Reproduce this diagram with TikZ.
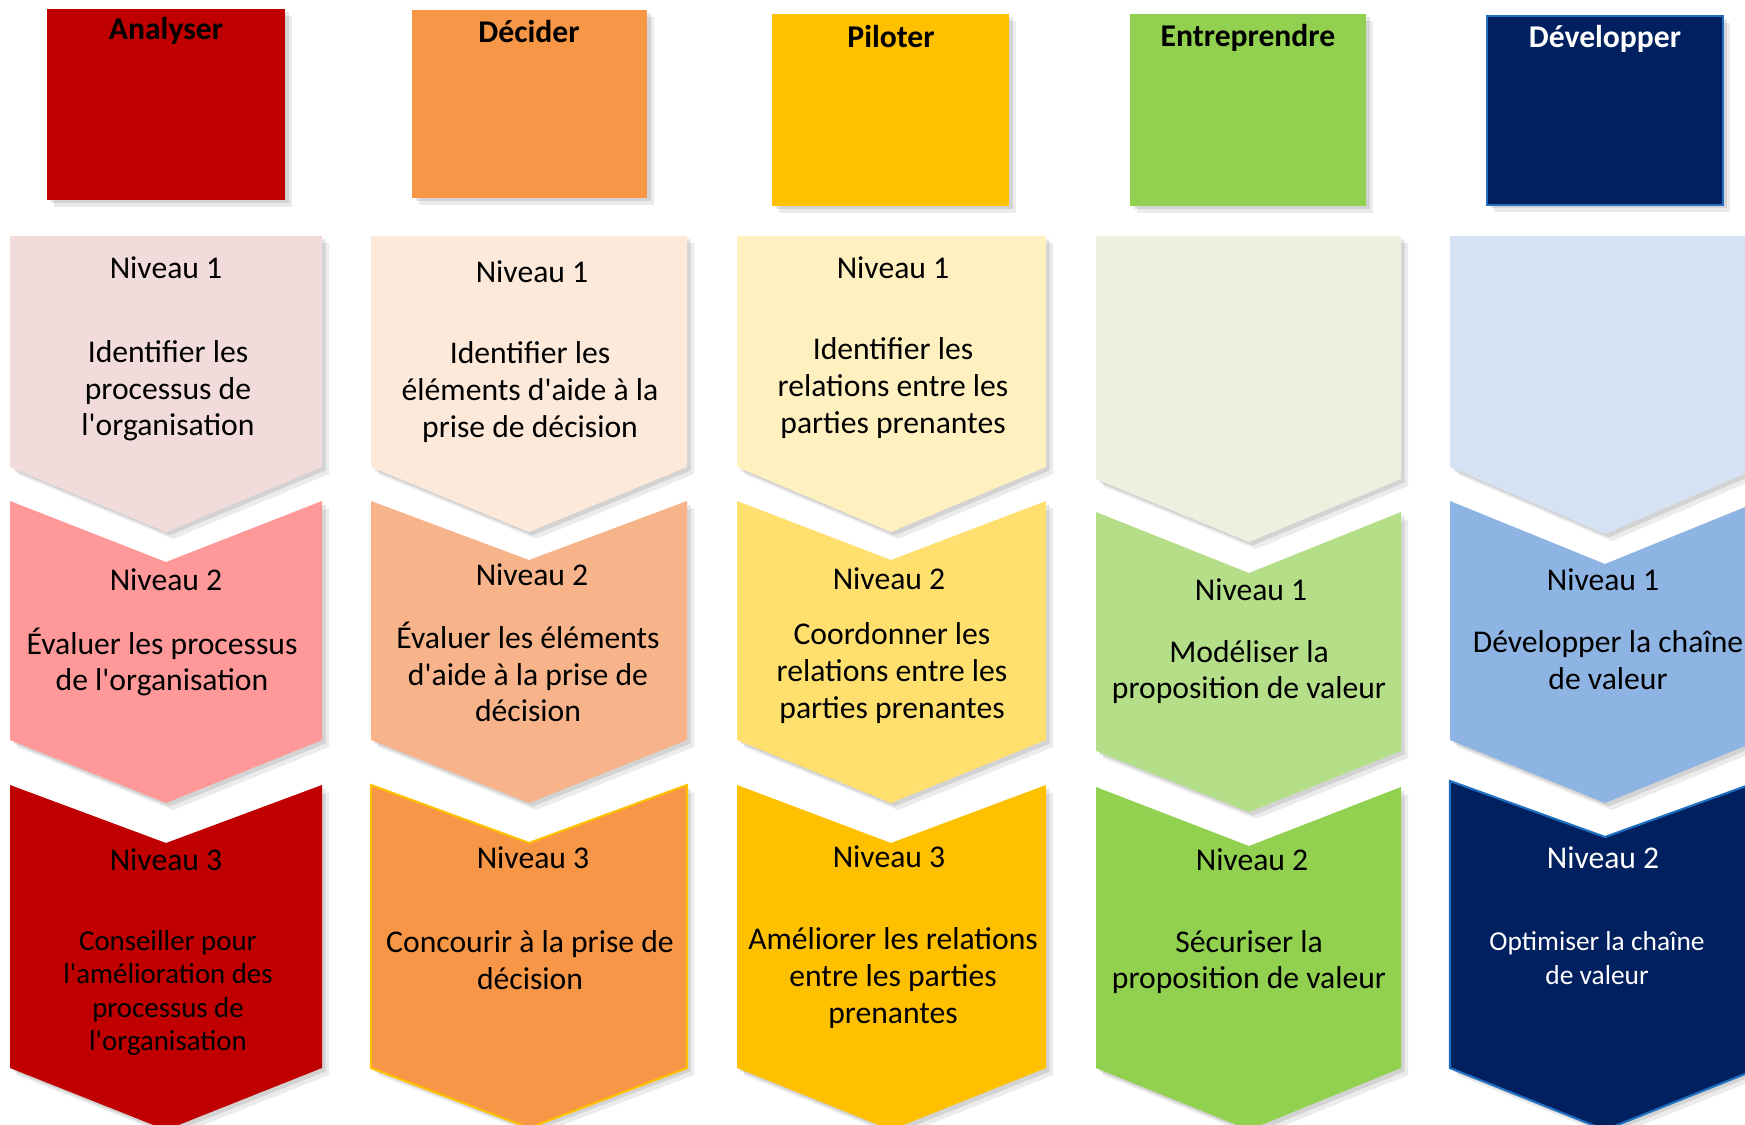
\documentclass[tikz,border=0pt]{standalone}
\usepackage{fontspec}
\setmainfont{Carlito}[Ligatures=TeXOff]
\definecolor{aH}{HTML}{C00000}
\definecolor{a1}{HTML}{F2DCDB}
\definecolor{a2}{HTML}{FF9999}
\definecolor{dH}{HTML}{F79646}
\definecolor{d1}{HTML}{FDE9D9}
\definecolor{d2}{HTML}{F7B48A}
\definecolor{pH}{HTML}{FFC000}
\definecolor{p1}{HTML}{FFF1BF}
\definecolor{p2}{HTML}{FFDF6D}
\definecolor{eH}{HTML}{92D050}
\definecolor{e1}{HTML}{EBF0DF}
\definecolor{e2}{HTML}{B4DE87}
\definecolor{vH}{HTML}{002060}
\definecolor{v1}{HTML}{D5E2F3}
\definecolor{v2}{HTML}{8EB4E3}
\definecolor{vB}{HTML}{1F6FC0}
\newcommand\cvflat[7]{\path[shad,#1] (#2,#5) -- (#3,#5) -- (#3,#6) -- (#4,#7) -- (#2,#6) -- cycle;}
\newcommand\cvnotch[8]{\path[shad,#1] (#2,#5) -- (#4,#6) -- (#3,#5) -- (#3,#7) -- (#4,#8) -- (#2,#7) -- cycle;}
\begin{document}
\begin{tikzpicture}[x=0.01cm,y=-0.01cm,
  shad/.style={preaction={fill=black,opacity=0.10,transform canvas={xshift=0.35mm,yshift=-0.35mm}},
               preaction={fill=black,opacity=0.08,transform canvas={xshift=0.7mm,yshift=-0.7mm}}},
  txt/.style={font=\fontsize{9}{10.4}\selectfont, align=center, inner sep=0pt, text=black},
  small/.style={font=\fontsize{8.2}{9.5}\selectfont, align=center, inner sep=0pt},
  hdr/.style={font=\fontsize{9}{10.4}\selectfont\bfseries, inner sep=0pt, text=black}]
\useasboundingbox (0,0) rectangle (1745,1125);
\clip (0,0) rectangle (1745,1125);
\fill[white] (0,0) rectangle (1745,1125);
% headers
\path[shad,fill=aH] (47,9) rectangle (285,200);
\path[shad,fill=dH] (412,10) rectangle (647,198);
\path[shad,fill=pH] (772,14) rectangle (1009,206);
\path[shad,fill=eH] (1130,14) rectangle (1366,206);
\path[shad,fill=vH,draw=vB,line width=0.6pt] (1487,16) rectangle (1723,205);
\node[hdr] (hA) at (166,31) {Analyser};
\node[hdr] (hD) at (529,32) {Décider};
\node[hdr] (hP) at (891,37) {Piloter};
\node[hdr] (hE) at (1248,38) {Entreprendre};
\node[hdr,text=white] (hV) at (1605,39) {Développer};
% column 1
\cvflat{fill=a1}{10}{322}{166}{236}{467}{532}
\cvnotch{fill=a2}{10}{322}{166}{501}{562}{740}{803}
\cvnotch{fill=aH}{10}{322}{166}{785}{843}{1068}{1130}
% column 2
\cvflat{fill=d1}{371}{687}{529}{236}{467}{532}
\cvnotch{fill=d2}{371}{687}{529}{501}{560}{740}{803}
\cvnotch{fill=dH,draw=pH,line width=0.6pt}{371}{687}{529}{785}{843}{1068}{1128}
% column 3
\cvflat{fill=p1}{737}{1046}{891}{236}{467}{532}
\cvnotch{fill=p2}{737}{1046}{891}{501}{560}{740}{803}
\cvnotch{fill=pH}{737}{1046}{891}{785}{843}{1068}{1130}
% column 4
\cvflat{fill=e1}{1096}{1401}{1249}{236}{479}{542}
\cvnotch{fill=e2}{1096}{1401}{1249}{512}{573}{751}{812}
\cvnotch{fill=eH}{1096}{1401}{1249}{787}{846}{1068}{1130}
% column 5
\cvflat{fill=v1}{1450}{1760}{1605}{236}{467}{534}
\cvnotch{fill=v2}{1450}{1760}{1605}{501}{564}{740}{803}
\cvnotch{fill=vH,draw=vB,line width=0.6pt}{1450}{1760}{1605}{781}{837}{1068}{1130}
% texts column 1
\node[txt] (a1n) at (166,268) {Niveau 1};
\node[txt] (a1t) at (168,391) {Identifier les\\processus de\\l'organisation};
\node[txt] (a2n) at (166,580) {Niveau 2};
\node[txt] (a2t) at (162,662) {Évaluer les processus\\de l'organisation};
\node[txt] (a3n) at (166,860) {Niveau 3};
\node[txt,small] (a3t) at (168,993) {Conseiller pour\\l'amélioration des\\processus de\\l'organisation};
% column 2
\node[txt] (d1n) at (532,272) {Niveau 1};
\node[txt] (d1t) at (530,392) {Identifier les\\éléments d'aide à la\\prise de décision};
\node[txt] (d2n) at (532,575) {Niveau 2};
\node[txt] (d2t) at (528,672) {Évaluer les éléments\\d'aide à la prise de\\décision};
\node[txt] (d3n) at (533,858) {Niveau 3};
\node[txt] (d3t) at (530,960) {Concourir à la prise de\\décision};
% column 3
\node[txt] (p1n) at (893,268) {Niveau 1};
\node[txt] (p1t) at (893,388) {Identifier les\\relations entre les\\parties prenantes};
\node[txt] (p2n) at (889,579) {Niveau 2};
\node[txt] (p2t) at (892,673) {Coordonner les\\relations entre les\\parties prenantes};
\node[txt] (p3n) at (889,857) {Niveau 3};
\node[txt] (p3t) at (893,978) {Améliorer les relations\\entre les parties\\prenantes};
% column 4
\node[txt] (e1n) at (1251,590) {Niveau 1};
\node[txt] (e1t) at (1249,672) {Modéliser la\\proposition de valeur};
\node[txt] (e2n) at (1252,860) {Niveau 2};
\node[txt] (e2t) at (1249,962) {Sécuriser la\\proposition de valeur};
% column 5
\node[txt] (v1n) at (1603,580) {Niveau 1};
\node[txt] (v1t) at (1608,660) {Développer la chaîne\\de valeur};
\node[txt,text=white] (v2n) at (1603,858) {Niveau 2};
\node[txt,small,font=\fontsize{7.8}{9.6}\selectfont,text=white] (v2t) at (1597,958) {Optimiser la chaîne\\de valeur};
\end{tikzpicture}
\end{document}
